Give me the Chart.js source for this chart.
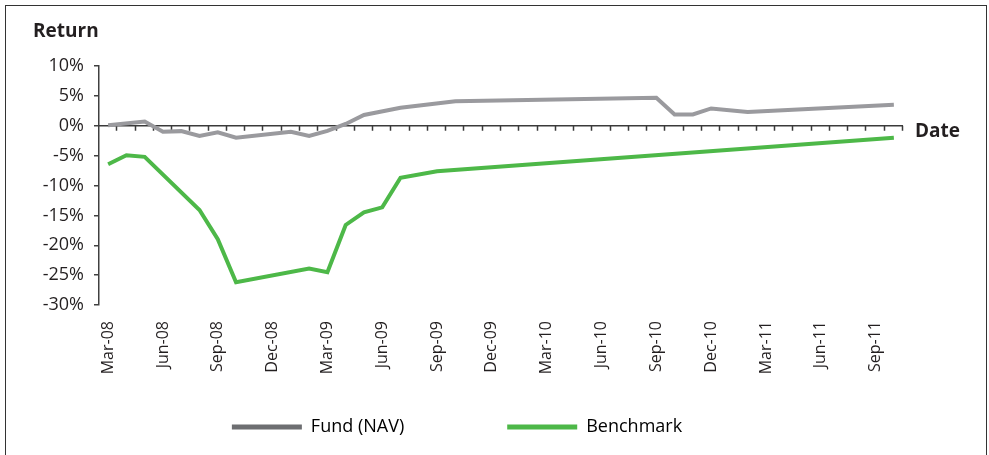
<!DOCTYPE html>
<html>
<head>
<meta charset="utf-8">
<script src="https://cdn.jsdelivr.net/npm/chart.js@4.4.0/dist/chart.umd.min.js"></script>
<style>
  html, body { margin: 0; padding: 0; background: #fff; }
  #wrap { position: relative; width: 989px; height: 455px; overflow: hidden; }
  #frame { position: absolute; left: 5px; top: 5px; width: 980px; height: 470px; border: 1.5px solid #333; pointer-events: none; }
</style>
</head>
<body>
<div id="wrap">
  <canvas id="return-chart" width="989" height="455"></canvas>
  <div id="frame"></div>
</div>
<script>
// monthly categories, labelled every third month
var months = ['Mar-08','Apr-08','May-08','Jun-08','Jul-08','Aug-08','Sep-08','Oct-08','Nov-08','Dec-08',
              'Jan-09','Feb-09','Mar-09','Apr-09','May-09','Jun-09','Jul-09','Aug-09','Sep-09','Oct-09',
              'Nov-09','Dec-09','Jan-10','Feb-10','Mar-10','Apr-10','May-10','Jun-10','Jul-10','Aug-10',
              'Sep-10','Oct-10','Nov-10','Dec-10','Jan-11','Feb-11','Mar-11','Apr-11','May-11','Jun-11',
              'Jul-11','Aug-11','Sep-11','Oct-11'];

// returns in %, null where the series has no observation
var fundNav = [0.1, null, 0.7, -1.0, -0.9, -1.7, -1.1, -2.0, null, null,
               -1.0, -1.7, -0.85, 0.3, 1.8, null, 3.0, null, null, 4.1,
               null, null, null, null, null, null, null, null, null, null,
               4.7, 1.9, 1.9, 2.9, null, 2.3, null, null, null, null,
               null, null, null, 3.5];

var benchmark = [-6.45, -4.95, -5.2, null, null, -14.1, -19.0, -26.2, null, null,
                 null, -23.9, -24.5, -16.6, -14.5, -13.65, -8.7, null, -7.6, null,
                 null, null, null, null, null, null, null, null, null, null,
                 null, null, null, null, null, null, null, null, null, null,
                 null, null, null, -2.0];

var yTicks = [10, 5, 0, -5, -10, -15, -20, -25, -30];

Chart.defaults.font.family = "'Open Sans', 'Noto Sans', sans-serif";
Chart.defaults.color = '#231f20';

// zero line with category tick marks, plus the "Return" and "Date" captions
var zeroAxis = {
    id: 'zeroAxis',
    afterLayout: function(chart) {
        // x labels hang below the (squeezed) x scale box, so widen its clip area
        var x = chart.scales.x;
        x.bottom = chart.height;
        x.height = x.bottom - x.top;
    },
    beforeDatasetsDraw: function(chart) {
        var ctx = chart.ctx, x = chart.scales.x, y = chart.scales.y;
        var y0 = y.getPixelForValue(0);
        var half = (x.getPixelForValue(1) - x.getPixelForValue(0)) / 2;
        ctx.save();
        ctx.strokeStyle = '#3a3a3a';
        ctx.lineWidth = 1.5;
        ctx.beginPath();
        ctx.moveTo(chart.chartArea.left, y0);
        ctx.lineTo(chart.chartArea.right, y0);
        for (var i = 1; i <= months.length; i++) {
            var px = Math.round(x.getPixelForValue(i - 1) + half) - 0.5;
            ctx.moveTo(px, y0);
            ctx.lineTo(px, y0 + 5);
        }
        ctx.stroke();
        ctx.restore();
    },
    afterDraw: function(chart) {
        var ctx = chart.ctx;
        var y0 = chart.scales.y.getPixelForValue(0);
        ctx.save();
        ctx.fillStyle = '#231f20';
        ctx.font = "bold 19px 'Open Sans'";
        ctx.textBaseline = 'middle';
        ctx.fillText('Return', 33, 32);
        ctx.fillText('Date', chart.chartArea.right + 12, y0 + 6);
        ctx.restore();
    }
};

var ctx = document.getElementById('return-chart').getContext('2d');
var returnChart = new Chart(ctx, {
    type: 'line',
    data: {
        labels: months,
        datasets: [{
            label: 'Fund (NAV)',
            data: fundNav,
            borderColor: '#9a9a9e',
            legendColor: '#6d6e71',
            borderWidth: 4,
            pointRadius: 0,
            spanGaps: true
        }, {
            label: 'Benchmark',
            data: benchmark,
            borderColor: '#4db848',
            legendColor: '#4db848',
            borderWidth: 4,
            pointRadius: 0,
            spanGaps: true
        }]
    },
    options: {
        responsive: false,
        animation: false,
        layout: { padding: { left: 11, top: 66, right: 86, bottom: 9 } },
        plugins: {
            tooltip: { enabled: false },
            legend: {
                position: 'bottom',
                labels: {
                    boxWidth: 70,
                    boxHeight: 5,
                    padding: 103,
                    font: { size: 18 },
                    generateLabels: function(chart) {
                        return chart.data.datasets.map(function(ds, i) {
                            return { text: ds.label, fillStyle: ds.legendColor, strokeStyle: ds.legendColor,
                                     lineWidth: 0, datasetIndex: i };
                        });
                    }
                }
            }
        },
        scales: {
            x: {
                offset: true,
                border: { display: false },
                grid: { display: false },
                afterFit: function(s) { s.height = 10; },
                ticks: {
                    autoSkip: false,
                    minRotation: 90,
                    maxRotation: 90,
                    padding: 8,
                    font: { size: 16 },
                    callback: function(v, i) { return i % 3 === 0 ? months[i] : ''; }
                }
            },
            y: {
                min: -30,
                max: 10,
                afterFit: function(s) { s.width = 88; },
                afterBuildTicks: function(s) { s.ticks = yTicks.map(function(v) { return { value: v }; }); },
                border: { display: true, color: '#404040', width: 1.5 },
                grid: { drawOnChartArea: false, drawTicks: true, tickLength: 5, color: '#404040', lineWidth: 1.5 },
                ticks: {
                    padding: 10,
                    font: { size: 18 },
                    callback: function(v) { return v + '%'; }
                }
            }
        }
    },
    plugins: [zeroAxis]
});
</script>
</body>
</html>
